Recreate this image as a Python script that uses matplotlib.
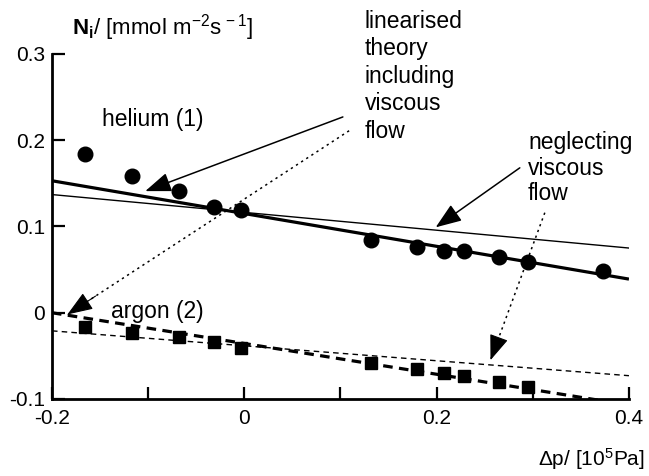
import matplotlib
matplotlib.use("Agg")
import matplotlib.pyplot as plt
import numpy as np

plt.rcParams['font.family'] = ['Liberation Sans', 'DejaVu Sans']
plt.rcParams['mathtext.fontset'] = 'custom'
plt.rcParams['mathtext.rm'] = 'Liberation Sans'
plt.rcParams['mathtext.it'] = 'Liberation Sans:italic'
plt.rcParams['mathtext.bf'] = 'Liberation Sans:bold'

# ---- data ----
he_dp = [-0.166, -0.117, -0.068, -0.032, -0.003, 0.132, 0.180, 0.208, 0.228, 0.265, 0.295, 0.373]
he_N = [0.184, 0.159, 0.141, 0.123, 0.119, 0.084, 0.076, 0.072, 0.071, 0.065, 0.059, 0.048]

ar_dp = [-0.166, -0.117, -0.068, -0.032, -0.003, 0.132, 0.180, 0.208, 0.228, 0.265, 0.295]
ar_N = [-0.017, -0.023, -0.028, -0.034, -0.041, -0.058, -0.065, -0.070, -0.073, -0.080, -0.086]

line_dp = [-0.2, 0.4]
he_visc = [0.153, 0.039]      # linearised theory incl. viscous flow
he_novisc = [0.137, 0.075]   # neglecting viscous flow
ar_visc = [0.000, -0.107]
ar_novisc = [-0.021, -0.073]

# annotation arrows: (start, tip)
arrow_lin_solid = [(0.1025, 0.227), (-0.103, 0.141)]
arrow_lin_dot = [(0.109, 0.211), (-0.184, -0.002)]
arrow_neg_solid = [(0.2865, 0.168), (0.199, 0.099)]
arrow_neg_dot = [(0.3125, 0.116), (0.256, -0.055)]

xticks = [-0.2, -0.1, 0, 0.1, 0.2, 0.3, 0.4]
xticklabels = ['-0.2', '', '0', '', '0.2', '', '0.4']
yticks = [-0.1, 0, 0.1, 0.2, 0.3]
yticklabels = ['-0.1', '0', '0.1', '0.2', '0.3']

fig = plt.figure(figsize=(6.49, 4.76), dpi=100)
ax = fig.add_axes([0.0801, 0.1618, 0.889, 0.7248])

ax.plot(line_dp, he_visc, color='black', lw=2.3, solid_capstyle='butt')
ax.plot(line_dp, he_novisc, color='black', lw=1.0)
ax.plot(line_dp, ar_visc, color='black', lw=2.3, linestyle=(0, (3, 2)))
ax.plot(line_dp, ar_novisc, color='black', lw=1.0, linestyle=(0, (4, 3)))

ax.plot(he_dp, he_N, 'o', color='black', markersize=10.5, zorder=5)
ax.plot(ar_dp, ar_N, 's', color='black', markersize=8.5, zorder=5)

head = '-|>,head_length=0.8,head_width=0.3'
for (start, tip), ls in [(arrow_lin_solid, '-'), (arrow_lin_dot, ':'),
                         (arrow_neg_solid, '-'), (arrow_neg_dot, ':')]:
    if ls == '-':
        ax.annotate('', xy=tip, xytext=start, annotation_clip=False,
                    arrowprops=dict(arrowstyle=head, mutation_scale=20,
                                    color='black', lw=1.1,
                                    shrinkA=0, shrinkB=0))
    else:
        ax.plot([start[0], tip[0]], [start[1], tip[1]], color='black',
                lw=1.1, linestyle=(0, (1.5, 2.5)), clip_on=False)
        near = (tip[0] + 0.1 * (start[0] - tip[0]), tip[1] + 0.1 * (start[1] - tip[1]))
        ax.annotate('', xy=tip, xytext=near, annotation_clip=False,
                    arrowprops=dict(arrowstyle=head, mutation_scale=20,
                                    color='black', lw=0.8,
                                    shrinkA=0, shrinkB=0))

ax.set_xlim(-0.2, 0.4)
ax.set_ylim(-0.1, 0.3)
ax.set_xticks(xticks)
ax.set_xticklabels(xticklabels)
ax.set_yticks(yticks)
ax.set_yticklabels(yticklabels)
ax.tick_params(axis='both', direction='in', length=9, width=1.6, labelsize=15)
ax.tick_params(axis='x', pad=7)
ax.tick_params(axis='y', pad=5)
for s in ['top', 'right']:
    ax.spines[s].set_visible(False)
for s in ['left', 'bottom']:
    ax.spines[s].set_linewidth(2.0)

ax.text(-0.148, 0.224, 'helium (1)', fontsize=16.5, va='center', ha='left')
ax.text(-0.139, 0.002, 'argon (2)', fontsize=16.5, va='center', ha='left')

fig.text(365/649, 1 - 10/476, 'linearised\ntheory\nincluding\nviscous\nflow',
         fontsize=16.5, va='top', ha='left', linespacing=1.25)
fig.text(528/649, 1 - 131/476, 'neglecting\nviscous\nflow',
         fontsize=16.5, va='top', ha='left', linespacing=1.15)

fig.text(72/649, 1 - 28/476, r'$\mathbf{N_i}$/ [mmol m$^{-2}$s$^{\,-1}$]',
         fontsize=16, va='center', ha='left')
fig.text(0.993, 1 - 459/476, r'$\Delta$p/ [10$^5$Pa]',
         fontsize=15, va='center', ha='right')

fig.savefig('out.png', dpi=100)
